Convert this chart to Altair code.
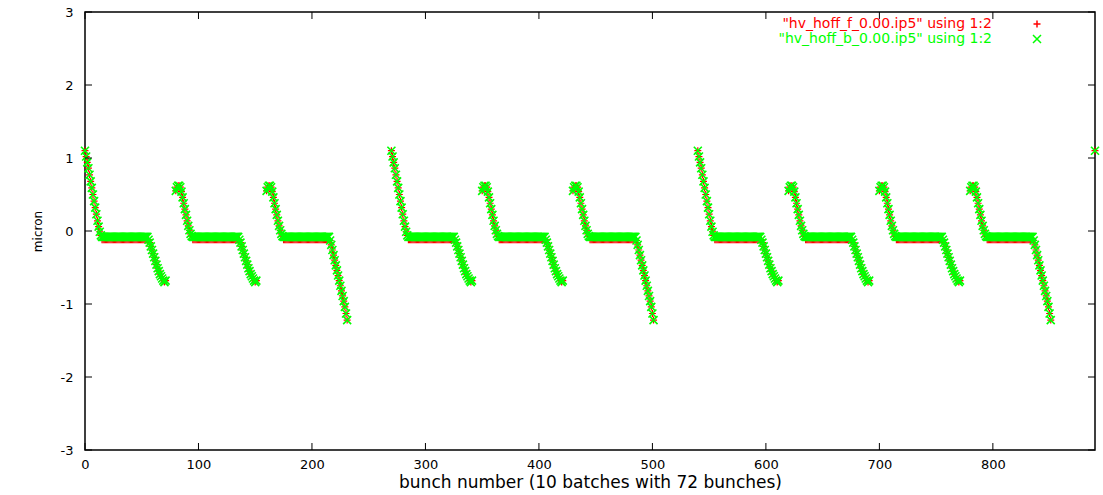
import altair as alt
import pandas as pd

# ---- data ----
batch_starts = [0, 80, 160, 270, 350, 430, 540, 620, 700, 780]
batch_kinds = ["first", "mid", "last", "first", "mid", "last", "first", "mid", "mid", "last"]

# bunches 0..14 of a batch
head_first = [1.10, 1.02, 0.94, 0.86, 0.77, 0.68, 0.59, 0.50, 0.41, 0.32, 0.23, 0.14, 0.06, -0.01, -0.06]
head_mid = [0.55, 0.60, 0.62, 0.62, 0.60, 0.54, 0.46, 0.38, 0.30, 0.22, 0.14, 0.07, 0.01, -0.04, -0.07]
# bunches 15..55: flat level
flat_count = 41
flat_b = -0.08
flat_f = -0.12
# bunches 56..71
tail_short = [-0.12, -0.16, -0.21, -0.26, -0.31, -0.36, -0.41, -0.46, -0.51, -0.55, -0.59, -0.62, -0.65, -0.68, -0.70, -0.68]
tail_long = [-0.13, -0.19, -0.26, -0.33, -0.40, -0.47, -0.54, -0.61, -0.68, -0.75, -0.82, -0.89, -0.96, -1.04, -1.13, -1.22]

wrap_x = [890]
wrap_y = [1.10]

x_ticks = [0, 100, 200, 300, 400, 500, 600, 700, 800]
y_ticks = [-3, -2, -1, 0, 1, 2, 3]
legend_labels = ['"hv_hoff_f_0.00.ip5" using 1:2', '"hv_hoff_b_0.00.ip5" using 1:2']
series_colors = ["#ff0000", "#00ff00"]

heads = {"first": head_first, "mid": head_mid, "last": head_mid}
tails = {"first": tail_short, "mid": tail_short, "last": tail_long}


def build(flat_level):
    xs, ys = [], []
    for s, k in zip(batch_starts, batch_kinds):
        prof = heads[k] + [flat_level] * flat_count + tails[k]
        for i, v in enumerate(prof):
            xs.append(s + i)
            ys.append(v)
    xs += wrap_x
    ys += wrap_y
    return pd.DataFrame({"bunch": xs, "y": ys})


df_f = build(flat_f)
df_b = build(flat_b)

W, H = 1010, 438
FONT = "DejaVu Sans"
PLUS = "M-1,0L1,0M0,-1L0,1"
CROSS = "M-1,-1L1,1M-1,1L1,-1"

xscale = alt.Scale(domain=[0, 890], nice=False, zero=False)
yscale = alt.Scale(domain=[-3, 3], nice=False, zero=False)

x_axis = alt.Axis(values=x_ticks, title="bunch number (10 batches with 72 bunches)",
                  ticks=False, domain=False, grid=False, labelPadding=8, labelFlush=False,
                  labelExpr="'' + datum.value",
                  labelFontSize=13, titleFontSize=17, titlePadding=3)
y_axis = alt.Axis(values=y_ticks, title="micron", ticks=False, domain=False, grid=False,
                  labelPadding=12, labelFlush=False, labelExpr="'' + datum.value",
                  labelFontSize=13, titleFontSize=12, titlePadding=16)


def X(field):
    return alt.X(field, scale=xscale, axis=x_axis)


def Y(field):
    return alt.Y(field, scale=yscale, axis=y_axis)


red = alt.Chart(df_f).mark_point(shape=PLUS, filled=False, size=49, strokeWidth=1.2,
                                 color=series_colors[0], opacity=1).encode(x=X("bunch:Q"), y=Y("y:Q"))
green = alt.Chart(df_b).mark_point(shape=CROSS, filled=False, size=64, strokeWidth=1.6,
                                   color=series_colors[1], opacity=1).encode(x=X("bunch:Q"), y=Y("y:Q"))

ydf = pd.DataFrame({"v": y_ticks})
xdf = pd.DataFrame({"v": x_ticks})
TL = 7
tick_layers = [
    alt.Chart(ydf).mark_rule(color="black", strokeWidth=1).encode(
        y=Y("v:Q"), x=alt.value(0), x2=alt.value(TL)),
    alt.Chart(ydf).mark_rule(color="black", strokeWidth=1).encode(
        y=Y("v:Q"), x=alt.value(W - TL), x2=alt.value(W)),
    alt.Chart(xdf).mark_rule(color="black", strokeWidth=1).encode(
        x=X("v:Q"), y=alt.value(H - TL), y2=alt.value(H)),
    alt.Chart(xdf).mark_rule(color="black", strokeWidth=1).encode(
        x=X("v:Q"), y=alt.value(0), y2=alt.value(TL)),
]

legend_layers = []
for k, (lab, col, shp, sz) in enumerate(zip(legend_labels, series_colors, [PLUS, CROSS], [49, 64])):
    ldf = pd.DataFrame({"label": [lab]})
    legend_layers.append(
        alt.Chart(ldf).mark_text(align="right", baseline="middle", font=FONT, fontSize=14,
                                 color=col).encode(text="label:N", x=alt.value(907),
                                                   y=alt.value(12 + 15 * k)))
    legend_layers.append(
        alt.Chart(ldf).mark_point(shape=shp, filled=False, size=sz, strokeWidth=1.5,
                                  color=col, opacity=1).encode(x=alt.value(952),
                                                               y=alt.value(12 + 15 * k)))

chart = alt.layer(red, green, *tick_layers, *legend_layers).properties(
    width=W, height=H,
    autosize=alt.AutoSizeParams(type="none"),
    padding={"left": 85, "top": 12, "right": 8, "bottom": 45},
    background="white",
).configure_view(stroke="black", strokeWidth=1.5).configure_axis(
    labelFont=FONT, titleFont=FONT, labelColor="black", titleColor="black",
    titleFontWeight="normal")

chart.save("out.html", embed_options={"renderer": "svg", "actions": False})
